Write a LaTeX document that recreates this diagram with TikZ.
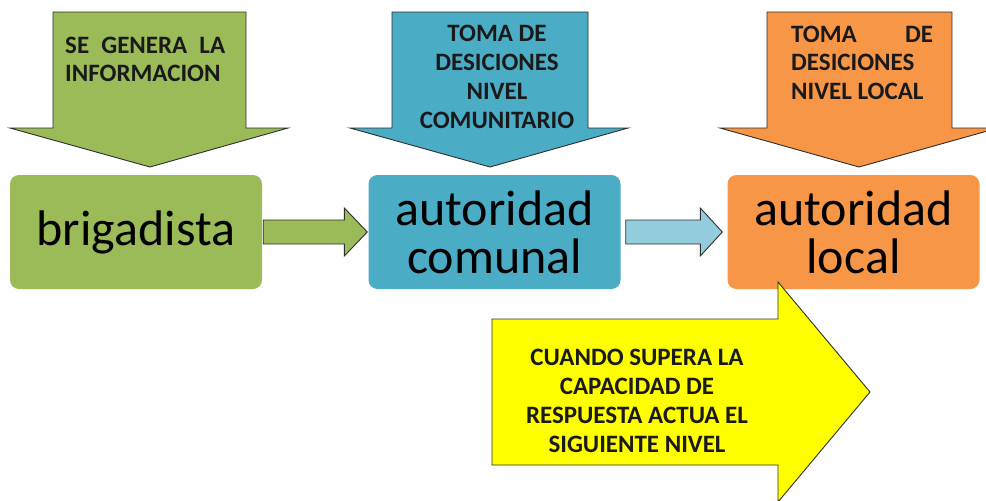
\documentclass[tikz,border=0pt]{standalone}
\usepackage{fontspec}
\setmainfont{Carlito}[BoldFont={Carlito Bold}]
\usepackage{xcolor}
\usetikzlibrary{calc}
\definecolor{verde}{HTML}{9BBB59}
\definecolor{azul}{HTML}{4BACC6}
\definecolor{celeste}{HTML}{93CDDD}
\definecolor{naranja}{HTML}{F79646}
\definecolor{amarillo}{HTML}{FFFF00}
\definecolor{borde}{HTML}{2E2E2E}
\definecolor{letra}{HTML}{1A1A1A}
\tikzset{
  caja/.style={rounded corners=9pt, minimum width=252pt, minimum height=114pt,
    inner sep=0pt, align=center, text=black, font=\fontsize{50}{48}\selectfont},
  flecha/.style={draw=borde, line width=0.9pt, line join=miter},
  rotulo/.style={text=letra, inner sep=0pt, font=\fontsize{25}{28.7}\selectfont\bfseries},
}
\begin{document}
\begin{tikzpicture}[x=1pt, y=-1pt]
  \useasboundingbox (0,0) rectangle (986,501);
  % 向下的箭头
  \draw[flecha, fill=verde] (53,12) -- (246,12) -- (246,128) -- (288,128) -- (150,167)
    -- (10,128) -- (53,128) -- cycle;
  \draw[flecha, fill=azul] (392,12) -- (588,12) -- (588,128) -- (628,128) -- (490,167)
    -- (350,128) -- (392,128) -- cycle;
  \draw[flecha, fill=naranja] (767,12) -- (952,12) -- (952,128) -- (998,128) -- (859,167)
    -- (720,128) -- (767,128) -- cycle;
  % 方框
  \node[caja, fill=verde] (brig) at (136,232) {brigadista};
  \node[caja, fill=azul] (com) at (494.5,232) {autoridad\\comunal};
  \node[caja, fill=naranja] (loc) at (853.5,232) {autoridad\\local};
  % 方框之间的箭头
  \coordinate (a1) at ($(brig.east)+(1,0)$);
  \coordinate (a2) at ($(com.west)+(-1,0)$);
  \draw[flecha, fill=verde] ($(a1)+(0,-12)$) -- ($(a2)+(-23,-12)$) -- ($(a2)+(-23,-24)$)
    -- (a2) -- ($(a2)+(-23,24)$) -- ($(a2)+(-23,12)$) -- ($(a1)+(0,12)$) -- cycle;
  \coordinate (b1) at ($(com.east)+(5,0)$);
  \coordinate (b2) at ($(loc.west)+(-5,0)$);
  \draw[flecha, fill=celeste] ($(b1)+(0,-12)$) -- ($(b2)+(-22,-12)$) -- ($(b2)+(-22,-24)$)
    -- (b2) -- ($(b2)+(-22,24)$) -- ($(b2)+(-22,12)$) -- ($(b1)+(0,12)$) -- cycle;
  % 黄色箭头
  \draw[flecha, fill=amarillo] (492,319) -- (778,319) -- (778,282) -- (870,392)
    -- (778,502) -- (778,465) -- (492,465) -- cycle;
  % 文字
  \node[rotulo, text width=160pt, align=justify, anchor=base west] (tinfo) at (65,53)
    {SE GENERA LA\linebreak INFORMACION};
  \node[rotulo, align=center, anchor=base] (tcom) at (497,128)
    {TOMA DE\\DESICIONES\\NIVEL\\COMUNITARIO};
  \node[rotulo, text width=142pt, align=justify, anchor=base west] (tloc) at (791,42)
    {TOMA DE\linebreak DESICIONES\\NIVEL LOCAL};
  \node[rotulo, align=center, anchor=base] (tnivel) at (637,452)
    {CUANDO SUPERA LA\\CAPACIDAD DE\\RESPUESTA ACTUA EL\\SIGUIENTE NIVEL};
\end{tikzpicture}
\end{document}
